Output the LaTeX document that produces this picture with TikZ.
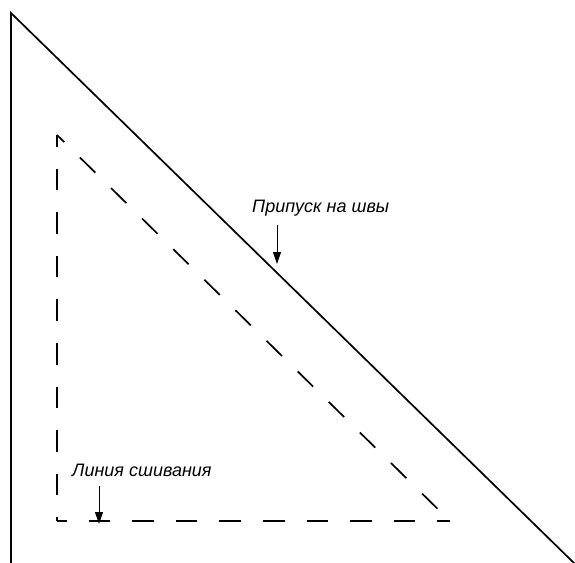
\documentclass[tikz,border=0pt]{standalone}
\usepackage{fontspec}
\setmainfont{Liberation Sans}
\usetikzlibrary{arrows.meta}
\begin{document}
\begin{tikzpicture}[x=1pt,y=-1pt,
  solidline/.style={line width=1.7pt},
  seam/.style={line width=1.7pt, dash pattern=on 21.6pt off 22pt},
  pointer/.style={line width=1pt, -{Stealth[length=12pt,width=8pt,inset=0pt]}},
  lbl/.style={font=\itshape\fontsize{18}{20}\selectfont, anchor=base west, inner sep=0pt}]
\useasboundingbox (0,0) rectangle (575,562);
% outer triangle
\coordinate (A) at (11,13);
\coordinate (B) at (11,564);
\coordinate (C) at (575,564);
\draw[solidline] (B) -- (A) -- (C);
% seam line triangle
\coordinate (P) at (57,135);
\coordinate (Q) at (57,521);
\coordinate (R) at (450,521);
\draw[seam, dash phase=10pt] (P) -- (Q);
\draw[seam, dash phase=12pt] (Q) -- (R);
\draw[seam, dash phase=11.5pt] (P) -- (R);
% labels
\node[lbl] (l1) at (252,212) {Припуск на швы};
\node[lbl] (l2) at (72,476) {Линия сшивания};
\coordinate (t1) at (277,264);
\coordinate (t2) at (99,524);
\draw[pointer] (277,225) -- (t1);
\draw[pointer] (99,486) -- (t2);
\end{tikzpicture}
\end{document}
